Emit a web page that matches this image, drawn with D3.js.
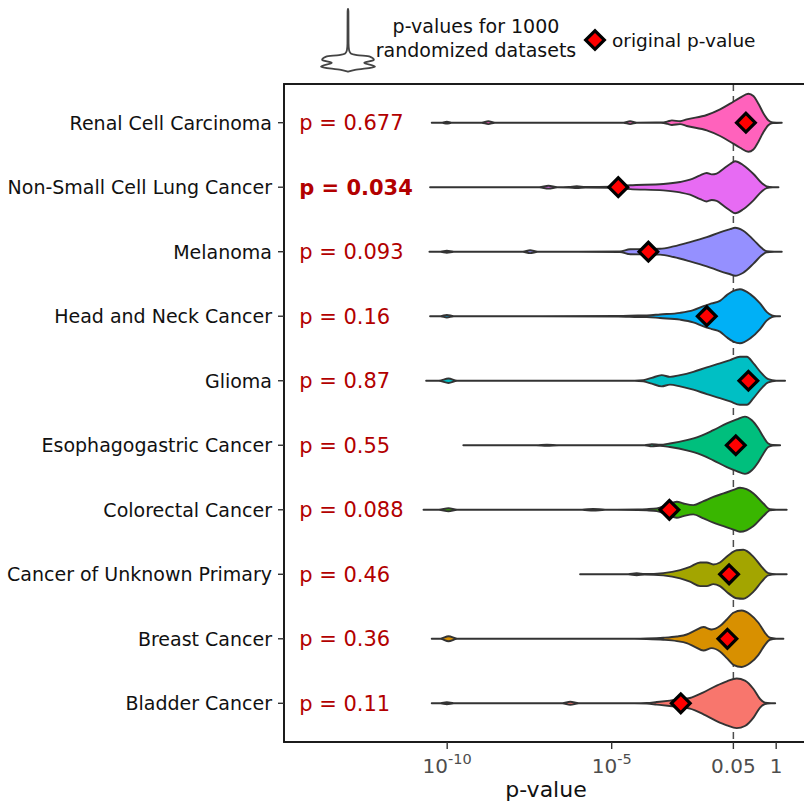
<!DOCTYPE html>
<html>
<head>
<meta charset="utf-8">
<script src="https://cdn.jsdelivr.net/npm/d3@7"></script>
<style>
  body { margin: 0; background: #fff; }
  svg { display: block; }
  text { font-family: "DejaVu Sans", Verdana, sans-serif; }
</style>
</head>
<body>
<svg id="chart" width="804" height="807"></svg>
<script>
// Cancer types, top to bottom
const cancers = [
  "Renal Cell Carcinoma",
  "Non-Small Cell Lung Cancer",
  "Melanoma",
  "Head and Neck Cancer",
  "Glioma",
  "Esophagogastric Cancer",
  "Colorectal Cancer",
  "Cancer of Unknown Primary",
  "Breast Cancer",
  "Bladder Cancer"
];

// Empirical p-value printed next to each violin
const empiricalP = ["0.677", "0.034", "0.093", "0.16", "0.87", "0.55", "0.088", "0.46", "0.36", "0.11"];

// log10 of the original (non-randomized) p-value for each cancer type
const originalLogP = [-0.92, -4.80, -3.885, -2.11, -0.845, -1.228, -3.246, -1.432, -1.483, -2.90];

// Fill colour of each violin
const fills = ["#FF62BC", "#E76BF3", "#9590FF", "#00B0F6", "#00BFC4",
               "#00BF7D", "#39B600", "#A3A500", "#D89000", "#F8766D"];

// Density profiles of the 1000 randomized p-values: [log10 p, relative density]
const renalDensity = [[-10.47,0],[-10.15,0.1],[-10.01,0.9],[-9.87,0.1],[-8.95,0.1],[-8.75,1.4],[-8.55,0.1],[-4.64,0.1],[-4.44,1.4],[-4.24,0.1],[-3.5,0.2],[-3.3,1.2],[-3.17,2.3],[-2.92,1.4],[-2.72,3.3],[-2.11,7.7],[-1.705,13.3],[-1.40,19],[-1.097,25],[-0.845,29],[-0.693,26.7],[-0.54,19],[-0.39,9.5],[-0.24,2.5],[-0.1,0.3],[0.17,0]];
const nsclcDensity = [[-10.52,0],[-7.2,0.1],[-6.92,1.4],[-6.65,0.1],[-6.3,0.3],[-6.06,0.9],[-5.8,0.3],[-5.0,0.6],[-4.44,1.9],[-3.43,3.2],[-2.92,5.2],[-2.62,7.5],[-2.31,11.9],[-2.11,14.2],[-1.96,12.8],[-1.81,13.6],[-1.60,18.5],[-1.40,23.2],[-1.25,26],[-1.00,22],[-0.69,13.2],[-0.44,4.2],[-0.29,0.9],[-0.1,0.1],[0.07,0]];
const melanomaDensity = [[-10.54,0],[-10.2,0.1],[-10.01,1],[-9.8,0.1],[-7.7,0.1],[-7.48,1.4],[-7.25,0.1],[-4.75,0.2],[-4.44,2.5],[-3.9,2.7],[-3.53,2.9],[-3.12,5.3],[-2.62,9.6],[-2.11,14.6],[-1.71,19.3],[-1.40,22.5],[-1.25,24],[-1.00,21],[-0.69,11.9],[-0.44,3.6],[-0.29,0.5],[-0.05,0.1],[0.17,0]];
const headNeckDensity = [[-10.52,0],[-10.2,0.1],[-10.01,1.3],[-9.8,0.1],[-4.8,0.2],[-4.2,0.7],[-3.93,0.8],[-3.53,1.8],[-2.92,3.4],[-2.52,6.1],[-2.21,10.1],[-1.96,12.8],[-1.71,15.4],[-1.50,21.1],[-1.30,25.4],[-1.10,27],[-0.79,22.1],[-0.49,12.8],[-0.29,4.4],[-0.13,0.8],[0.0,0.1],[0.12,0]];
const gliomaDensity = [[-10.64,0],[-10.25,0.1],[-9.96,2.3],[-9.7,0.1],[-4.3,0.1],[-4.04,0.6],[-3.78,2.9],[-3.48,5.6],[-3.23,3.9],[-2.92,5.6],[-2.52,8.9],[-2.11,13.3],[-1.71,17.3],[-1.40,20.6],[-1.10,24],[-0.89,24],[-0.69,17.3],[-0.44,7.3],[-0.24,1.6],[0.0,0.1],[0.27,0]];
const esophDensity = [[-9.51,0],[-7.3,0.1],[-6.97,0.5],[-6.6,0.1],[-4.0,0.1],[-3.78,1.1],[-3.53,0.5],[-3.23,1.8],[-2.72,5.1],[-2.31,9.1],[-1.91,15.1],[-1.50,21.8],[-1.20,25.8],[-0.95,28.6],[-0.74,25],[-0.54,16.7],[-0.39,8.4],[-0.24,1.8],[-0.1,0.2],[0.12,0]];
const colorectalDensity = [[-10.72,0],[-10.25,0.1],[-9.96,1.5],[-9.7,0.1],[-5.9,0.1],[-5.56,0.8],[-5.2,0.1],[-4.2,0.3],[-3.93,0.6],[-3.63,1.3],[-3.3,5],[-3.02,8],[-2.82,6.3],[-2.52,4.6],[-2.21,8.6],[-1.91,12.9],[-1.60,16.3],[-1.30,19.8],[-1.10,22],[-0.9,20.5],[-0.69,16.3],[-0.39,6.3],[-0.19,0.6],[0.0,0.1],[0.32,0]];
const unknownPrimaryDensity = [[-5.96,0],[-4.5,0.1],[-4.24,1],[-4.0,0.2],[-3.43,1.1],[-2.92,4.1],[-2.62,7.4],[-2.31,11.8],[-2.11,11.8],[-1.91,9.8],[-1.71,11.8],[-1.45,19.1],[-1.20,24],[-1.0,24.5],[-0.69,17.4],[-0.44,7.4],[-0.24,1.1],[0.0,0.1],[0.32,0]];
const breastDensity = [[-10.47,0],[-10.2,0.1],[-9.96,2.5],[-9.7,0.1],[-4.3,0.1],[-3.93,0.3],[-3.43,1],[-3.02,2.3],[-2.72,4.3],[-2.46,8.3],[-2.21,11.7],[-1.96,9.3],[-1.71,12.7],[-1.50,19.3],[-1.30,26],[-1.05,28.2],[-0.79,24.3],[-0.54,16],[-0.34,6],[-0.19,1],[0.0,0.1],[0.22,0]];
const bladderDensity = [[-10.47,0],[-10.2,0.1],[-10.01,1],[-9.8,0.1],[-6.5,0.1],[-6.26,1.5],[-6.0,0.1],[-4.3,0.1],[-3.93,0.3],[-3.63,1.3],[-3.23,2.7],[-2.62,5.3],[-2.21,11],[-1.81,17.7],[-1.50,22],[-1.20,24.8],[-0.95,22.7],[-0.69,14.3],[-0.49,4.3],[-0.34,0.7],[-0.15,0.1],[-0.03,0]];

const densities = [renalDensity, nsclcDensity, melanomaDensity, headNeckDensity, gliomaDensity,
                   esophDensity, colorectalDensity, unknownPrimaryDensity, breastDensity, bladderDensity];

// Axis ticks: log10 positions and their labels (base, exponent)
const tickLog = [-10, -5, Math.log10(0.05), 0];
const tickLabels = [["10", "-10"], ["10", "-5"], ["0.05", ""], ["1", ""]];

// Significance threshold drawn as a dashed line
const alpha = 0.05;

// Shape of the legend violin glyph: [position top→bottom (0..1), relative half-width]
const legendGlyph = [[0,0],[0.05,0.015],[0.55,0.02],[0.658,0.04],[0.71,0.1],[0.737,0.33],[0.763,0.81],[0.815,0.96],[0.858,0.6],[0.92,1],[0.972,0.26],[1,0]];

// ---------------------------------------------------------------------------
const svg = d3.select("#chart");
const W = 804, H = 807;
const panel = { left: 284, top: 84, right: 808, bottom: 742 };

const x = d3.scaleLog()
  .domain([Math.pow(10, -14.96), Math.pow(10, 0.967)])
  .range([panel.left, panel.right]);

const y = d3.scalePoint()
  .domain(cancers)
  .range([panel.top, panel.bottom])
  .padding(0.6);

const halfWidth = d3.scaleLinear().domain([0, 29]).range([0, 0.45 * y.step()]);

svg.append("rect").attr("width", W).attr("height", H).attr("fill", "#fff");

// significance threshold
svg.append("line")
  .attr("x1", x(alpha)).attr("x2", x(alpha))
  .attr("y1", panel.top).attr("y2", panel.bottom)
  .attr("stroke", "#4d4d4d").attr("stroke-width", 1.5)
  .attr("stroke-dasharray", "7,5");

// violins
const violins = svg.append("g");
cancers.forEach((c, i) => {
  const cy = y(c);
  const area = d3.area()
    .x(d => x(Math.pow(10, d[0])))
    .y0(d => cy - halfWidth(d[1]))
    .y1(d => cy + halfWidth(d[1]))
    .curve(d3.curveMonotoneX);
  violins.append("path")
    .attr("d", area(densities[i]))
    .attr("fill", fills[i])
    .attr("stroke", "#333")
    .attr("stroke-width", 1.9)
    .attr("stroke-linejoin", "round");
});

// original p-values
const diamond = d3.symbol().type(d3.symbolSquare).size(175);
svg.append("g").selectAll("path")
  .data(cancers)
  .join("path")
  .attr("d", diamond)
  .attr("transform", (c, i) => `translate(${x(Math.pow(10, originalLogP[i]))},${y(c)}) rotate(45)`)
  .attr("fill", "#FF0000")
  .attr("stroke", "#000")
  .attr("stroke-width", 3.2)
  .attr("stroke-linejoin", "miter");

// empirical p-value labels
svg.append("g").selectAll("text")
  .data(cancers)
  .join("text")
  .attr("x", x(Math.pow(10, -14.5)))
  .attr("y", c => y(c))
  .attr("dy", "0.36em")
  .attr("font-size", 21)
  .attr("fill", "#B20000")
  .attr("font-weight", (c, i) => +empiricalP[i] < alpha ? "bold" : "normal")
  .text((c, i) => `p = ${empiricalP[i]}`);

// panel border
svg.append("rect")
  .attr("x", panel.left).attr("y", panel.top)
  .attr("width", panel.right - panel.left).attr("height", panel.bottom - panel.top)
  .attr("fill", "none").attr("stroke", "#111").attr("stroke-width", 1.9);

// y axis: ticks and labels
const yAxis = svg.append("g");
yAxis.selectAll("line").data(cancers).join("line")
  .attr("x1", panel.left - 6).attr("x2", panel.left)
  .attr("y1", c => y(c)).attr("y2", c => y(c))
  .attr("stroke", "#333").attr("stroke-width", 1.4);
yAxis.selectAll("text").data(cancers).join("text")
  .attr("x", panel.left - 12)
  .attr("y", c => y(c))
  .attr("dy", "0.36em")
  .attr("text-anchor", "end")
  .attr("font-size", 19)
  .attr("fill", "#111")
  .text(c => c);

// x axis: ticks and labels
const xAxis = svg.append("g");
tickLog.forEach((t, i) => {
  const tx = x(Math.pow(10, t));
  xAxis.append("line")
    .attr("x1", tx).attr("x2", tx)
    .attr("y1", panel.bottom).attr("y2", panel.bottom + 7)
    .attr("stroke", "#333").attr("stroke-width", 1.4);
  const lbl = xAxis.append("text")
    .attr("x", tx).attr("y", panel.bottom + 31)
    .attr("text-anchor", "middle")
    .attr("font-size", 20)
    .attr("fill", "#4D4D4D");
  lbl.append("tspan").text(tickLabels[i][0]);
  if (tickLabels[i][1]) {
    lbl.append("tspan")
      .attr("dy", "-0.62em")
      .attr("font-size", 14.5)
      .text(tickLabels[i][1]);
  }
});

svg.append("text")
  .attr("x", (panel.left + W) / 2 + 2)
  .attr("y", 797)
  .attr("text-anchor", "middle")
  .attr("font-size", 22)
  .attr("fill", "#111")
  .text("p-value");

// legend
const legend = svg.append("g");
const gy = d3.scaleLinear().domain([0, 1]).range([8.3, 71.7]);
const gw = d3.scaleLinear().domain([0, 1]).range([0, 27]);
const gcx = 348;
legend.append("path")
  .attr("d", d3.area()
    .y(d => gy(d[0]))
    .x0(d => gcx - gw(d[1]))
    .x1(d => gcx + gw(d[1]))
    .curve(d3.curveMonotoneY)(legendGlyph))
  .attr("fill", "#fff")
  .attr("stroke", "#444")
  .attr("stroke-width", 1.8);

const legendText = legend.append("text")
  .attr("text-anchor", "middle")
  .attr("font-size", 19)
  .attr("fill", "#111");
legendText.append("tspan").attr("x", 476).attr("y", 33).text("p-values for 1000");
legendText.append("tspan").attr("x", 476).attr("y", 56.5).text("randomized datasets");

legend.append("path")
  .attr("d", diamond)
  .attr("transform", "translate(595,40) rotate(45)")
  .attr("fill", "#FF0000")
  .attr("stroke", "#000")
  .attr("stroke-width", 3.2);

legend.append("text")
  .attr("x", 612).attr("y", 46.5)
  .attr("font-size", 18.5)
  .attr("fill", "#111")
  .text("original p-value");
</script>
</body>
</html>
